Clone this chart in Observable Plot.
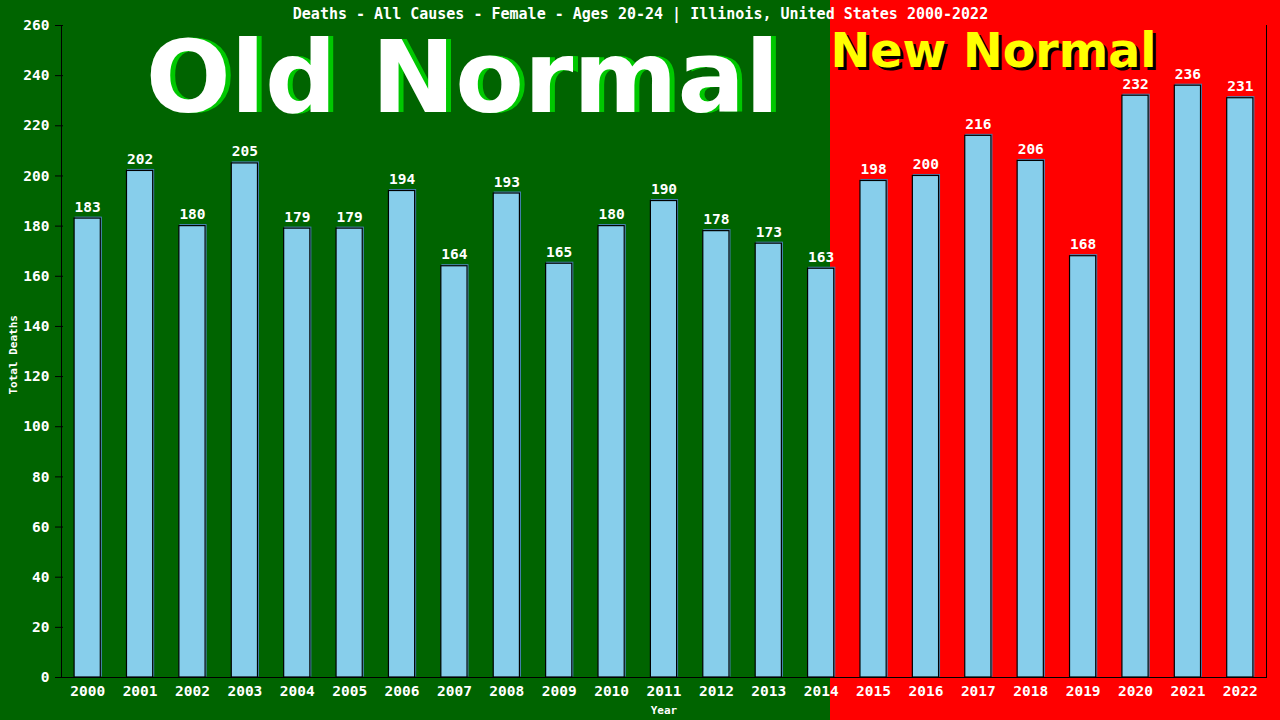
<!DOCTYPE html>
<html><head><meta charset="utf-8">
<script src="https://cdn.jsdelivr.net/npm/d3@7"></script>
<script src="https://cdn.jsdelivr.net/npm/@observablehq/plot@0.6"></script>
<style>html,body{margin:0;padding:0;background:#006400;}</style>
</head><body><div id="chart"></div>
<script>
const years = ["2000","2001","2002","2003","2004","2005","2006","2007","2008","2009","2010","2011","2012","2013","2014","2015","2016","2017","2018","2019","2020","2021","2022"];
const deaths = [183,202,180,205,179,179,194,164,193,165,180,190,178,173,163,198,200,216,206,168,232,236,231];
const yTicks = [0,20,40,60,80,100,120,140,160,180,200,220,240,260];
const title = "Deaths - All Causes - Female - Ages 20-24 | Illinois, United States 2000-2022";
const oldLabel = "Old Normal";
const newLabel = "New Normal";
const yLabel = "Total Deaths";
const xLabel = "Year";

const data = years.map((y, i) => ({year: y, value: deaths[i]}));
const mono = "DejaVu Sans Mono";
const big = "DejaVu Sans";
const fw = "bold";

const chart = Plot.plot({
  width: 1280, height: 720,
  marginLeft: 61, marginRight: 14, marginTop: 25, marginBottom: 43,
  style: {background: "linear-gradient(to right, #006400 830px, #ff0000 830px)", fontFamily: mono, fontSize: "14.5px", color: "white", overflow: "visible"},
  x: {domain: years, paddingInner: 0.5, paddingOuter: 0.25, round: false, label: null},
  y: {domain: [0, 260], label: null},
  marks: [
    Plot.text([oldLabel], {frameAnchor: "top-left", dx: 406, dy: 86, text: d => d, fill: "#00c800", fontSize: 100, fontWeight: "bold", fontFamily: big, textAnchor: "middle", lineAnchor: "bottom"}),
    Plot.text([oldLabel], {frameAnchor: "top-left", dx: 401, dy: 86, text: d => d, fill: "white", fontSize: 100, fontWeight: "bold", fontFamily: big, textAnchor: "middle", lineAnchor: "bottom"}),
    Plot.text([newLabel], {frameAnchor: "top-left", dx: 772, dy: 44, text: d => d, fill: "black", fontSize: 47.5, fontWeight: "bold", fontFamily: big, textAnchor: "start", lineAnchor: "bottom"}),
    Plot.text([newLabel], {frameAnchor: "top-left", dx: 769, dy: 41, text: d => d, fill: "#ffff00", fontSize: 47.5, fontWeight: "bold", fontFamily: big, textAnchor: "start", lineAnchor: "bottom"}),
    Plot.barY(data, {x: "year", y: "value", fill: "#87ceeb", stroke: "#4682b4", strokeWidth: 1, dx: 1, dy: -1}),
    Plot.barY(data, {x: "year", y: "value", fill: "#87ceeb", stroke: "black", strokeWidth: 1.2}),
    Plot.text(data, {x: "year", y: "value", text: d => String(d.value), fill: "white", dy: -7, lineAnchor: "bottom", fontFamily: mono, fontSize: 14.5, fontWeight: fw}),
    Plot.axisY({ticks: yTicks, tickSize: 6, tickPadding: 6, stroke: "black", fill: "white", label: null, fontFamily: mono, fontSize: 14.5, fontWeight: fw}),
    Plot.axisY({ticks: yTicks, tickSize: -2, text: null, stroke: "black", label: null}),
    Plot.axisX({tickSize: 0, tickPadding: 8, fill: "white", label: null, fontFamily: mono, fontSize: 14.5, fontWeight: fw}),
    Plot.frame({anchor: "left", stroke: "black"}),
    Plot.frame({anchor: "right", stroke: "black"}),
    Plot.frame({anchor: "bottom", stroke: "black"}),
    Plot.text([title], {frameAnchor: "top", dx: -23.5, dy: -7, text: d => d, fill: "white", fontFamily: mono, fontSize: 15, fontWeight: fw, lineAnchor: "bottom"}),
    Plot.text([yLabel], {frameAnchor: "left", dx: -48, dy: 43, rotate: -90, text: d => d, fill: "white", fontFamily: mono, fontSize: 11, fontWeight: "bold"}),
    Plot.text([xLabel], {frameAnchor: "bottom", dy: 36, text: d => d, fill: "white", fontFamily: mono, fontSize: 11, fontWeight: "bold", lineAnchor: "bottom"})
  ]
});
document.getElementById("chart").appendChild(chart);
</script></body></html>
